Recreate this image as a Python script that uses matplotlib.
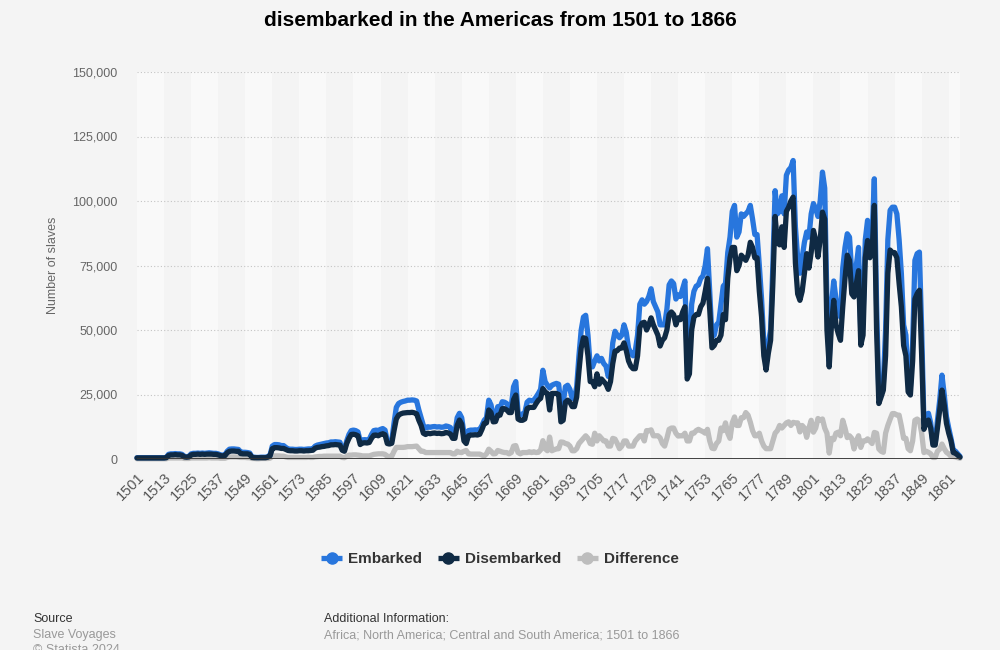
import numpy as np
import matplotlib.pyplot as plt
from matplotlib.lines import Line2D

plt.rcParams['font.family'] = ['Liberation Sans', 'DejaVu Sans']

# 数据 (单位: 千人), 每行 10 年
years = np.arange(1501, 1867)

embarked_k = [
    0.5, 0.5, 0.5, 0.5, 0.5, 0.5, 0.5, 0.5, 0.5, 0.5,          # 1501
    0.5, 0.5, 0.5, 0.6, 1.8, 2.0, 2.0, 2.1, 2.0, 2.0,          # 1511
    1.8, 1.0, 0.9, 1.0, 2.0, 2.2, 2.2, 2.3, 2.2, 2.3,          # 1521
    2.2, 2.3, 2.4, 2.3, 2.2, 2.2, 2.0, 1.6, 1.5, 1.6,          # 1531
    3.0, 3.8, 3.9, 3.9, 3.8, 3.7, 2.7, 2.6, 2.6, 2.5,          # 1541
    2.3, 0.8, 0.7, 0.6, 0.6, 0.7, 0.7, 0.7, 0.9, 1.5,          # 1551
    5.0, 5.6, 5.6, 5.5, 5.2, 5.2, 4.5, 3.9, 3.8, 3.8,          # 1561
    3.7, 3.7, 3.8, 3.8, 3.7, 3.8, 3.9, 3.9, 4.0, 5.0,          # 1571
    5.4, 5.6, 5.8, 6.0, 6.2, 6.3, 6.6, 6.6, 6.7, 6.6,          # 1581
    6.5, 4.0, 3.5, 7.0, 9.5, 11.0, 11.2, 11.0, 10.5, 7.0,      # 1591
    7.4, 7.5, 7.4, 7.6, 9.5, 11.0, 11.2, 11.0, 11.5, 11.8,     # 1601
    11.2, 7.0, 6.8, 7.2, 14.0, 20.0, 21.5, 22.0, 22.3, 22.5,   # 1611
    22.8, 22.8, 22.9, 22.8, 22.5, 19.0, 16.0, 13.0, 12.0, 12.5,  # 1621
    12.3, 12.5, 12.6, 12.4, 12.5, 12.3, 12.4, 12.8, 12.6, 12.2,  # 1631
    10.0, 10.0, 16.0, 17.7, 16.0, 10.0, 9.3, 11.0, 11.2, 11.2,   # 1641
    11.3, 11.2, 11.5, 13.0, 15.0, 16.0, 22.8, 21.0, 16.4, 16.6,  # 1651
    20.3, 20.0, 22.2, 22.0, 21.5, 20.0, 20.5, 28.0, 30.0, 18.0,  # 1661
    17.0, 17.5, 18.0, 22.0, 22.8, 22.5, 22.8, 24.0, 25.4, 27.0,  # 1671
    34.4, 30.0, 28.6, 27.5, 28.6, 29.0, 29.3, 29.0, 21.0, 21.5,  # 1681
    28.0, 28.6, 27.0, 23.5, 23.5, 28.0, 40.0, 50.0, 55.0, 55.7,  # 1691
    48.0, 36.0, 35.7, 38.0, 40.0, 38.0, 39.0, 37.0, 36.0, 32.0,  # 1701
    35.0, 45.0, 49.5, 48.0, 47.0, 48.0, 52.0, 49.0, 43.0, 41.0,  # 1711
    40.0, 42.0, 48.0, 60.0, 61.7, 60.0, 61.0, 63.0, 66.0, 61.0,  # 1721
    59.0, 57.0, 52.0, 52.0, 52.0, 58.0, 67.5, 69.0, 68.0, 62.0,  # 1731
    63.6, 63.0, 66.0, 69.0, 38.0, 40.0, 60.0, 65.0, 67.0, 67.5,  # 1741
    70.0, 71.0, 75.0, 81.5, 65.0, 47.3, 48.0, 52.0, 53.0, 60.0,  # 1751
    67.0, 68.0, 80.0, 86.0, 96.0, 98.3, 86.0, 88.0, 95.0, 94.0,  # 1761
    95.0, 96.0, 98.3, 93.0, 87.0, 87.0, 75.0, 62.0, 45.0, 38.5,  # 1771
    45.0, 50.0, 75.0, 104.0, 95.0, 96.0, 102.0, 95.0, 110.0, 112.0,   # 1781
    113.0, 115.7, 90.0, 78.0, 72.0, 78.0, 84.0, 88.0, 86.0, 95.0,     # 1791
    99.0, 97.0, 94.0, 100.0, 111.2, 105.0, 60.0, 38.0, 60.0, 69.0,    # 1801
    62.0, 59.0, 55.0, 74.0, 82.0, 87.3, 86.0, 72.0, 66.7, 75.0,       # 1811
    82.0, 48.6, 55.0, 85.0, 92.5, 85.0, 86.0, 108.6, 60.0, 25.4,      # 1821
    27.0, 29.3, 50.0, 85.0, 96.4, 97.6, 97.6, 95.0, 85.0, 71.8,       # 1831
    52.0, 48.0, 30.0, 28.0, 45.0, 77.0, 79.6, 80.2, 50.0, 14.0,       # 1841
    17.0, 17.7, 14.0, 6.0, 6.0, 15.0, 22.8, 32.5, 25.0, 16.4,         # 1851
    12.0, 8.0, 3.5, 3.0, 2.0, 1.0,                                    # 1861
]

disembarked_k = [
    0.4, 0.4, 0.4, 0.4, 0.4, 0.4, 0.4, 0.4, 0.4, 0.4,          # 1501
    0.4, 0.4, 0.4, 0.5, 1.4, 1.6, 1.6, 1.7, 1.6, 1.6,          # 1511
    1.4, 0.8, 0.7, 0.8, 1.6, 1.8, 1.8, 1.9, 1.8, 1.9,          # 1521
    1.8, 1.9, 1.9, 1.9, 1.8, 1.8, 1.6, 1.3, 1.2, 1.3,          # 1531
    2.4, 3.0, 3.1, 3.1, 3.0, 3.0, 2.1, 2.0, 2.0, 2.0,          # 1541
    1.8, 0.6, 0.5, 0.5, 0.5, 0.5, 0.5, 0.5, 0.7, 1.2,          # 1551
    4.0, 4.4, 4.4, 4.3, 4.1, 4.1, 3.7, 3.3, 3.2, 3.2,          # 1561
    3.1, 3.1, 3.2, 3.2, 3.1, 3.2, 3.2, 3.3, 3.4, 4.2,          # 1571
    4.5, 4.6, 4.8, 4.9, 5.1, 5.2, 5.5, 5.5, 5.6, 5.5,          # 1581
    5.4, 3.4, 3.0, 6.0, 8.0, 9.5, 9.6, 9.4, 9.0, 5.6,          # 1591
    6.2, 6.3, 6.2, 6.4, 8.0, 9.2, 9.3, 9.0, 9.5, 9.8,          # 1601
    9.4, 6.0, 5.8, 6.1, 11.0, 15.5, 17.0, 17.5, 17.8, 17.9,    # 1611
    18.0, 18.0, 18.1, 17.9, 17.5, 15.0, 13.0, 10.0, 9.5, 10.0,   # 1621
    9.8, 10.0, 10.1, 9.9, 10.0, 9.8, 9.9, 10.3, 10.1, 9.7,       # 1631
    8.0, 8.0, 13.0, 15.1, 13.5, 7.0, 6.0, 9.0, 9.3, 9.3,         # 1641
    9.4, 9.3, 9.6, 11.5, 13.8, 14.0, 19.0, 18.0, 14.4, 14.5,     # 1651
    17.0, 17.0, 19.5, 19.5, 19.0, 18.0, 18.0, 23.0, 24.8, 15.5,  # 1661
    15.0, 15.0, 15.5, 19.5, 20.0, 20.0, 20.0, 21.5, 22.8, 23.5,  # 1671
    27.3, 26.0, 25.4, 19.0, 25.4, 25.4, 25.4, 25.0, 14.4, 15.0,  # 1681
    22.0, 22.8, 22.0, 20.3, 20.3, 24.0, 34.0, 43.0, 47.0, 46.7,  # 1691
    40.0, 30.0, 30.0, 28.0, 33.0, 29.0, 31.0, 30.0, 29.0, 27.0,  # 1701
    30.0, 37.0, 41.8, 42.0, 43.0, 43.0, 45.0, 42.0, 38.0, 36.0,  # 1711
    35.0, 35.0, 40.0, 51.0, 52.7, 53.0, 50.0, 52.0, 54.7, 52.0,  # 1721
    50.0, 48.0, 43.8, 46.0, 47.0, 50.0, 56.0, 57.0, 56.0, 52.0,  # 1731
    54.7, 54.0, 57.0, 59.0, 31.0, 33.0, 50.0, 55.0, 56.0, 56.0,  # 1741
    59.0, 60.4, 65.0, 70.0, 58.0, 43.1, 44.0, 46.0, 46.0, 48.0,  # 1751
    56.0, 54.0, 70.0, 78.0, 82.0, 82.0, 73.0, 75.0, 79.0, 78.0,  # 1761
    77.0, 79.0, 84.0, 82.0, 78.0, 78.0, 65.0, 55.0, 40.0, 34.5,  # 1771
    41.0, 46.0, 68.0, 94.0, 84.0, 83.0, 90.0, 82.0, 96.0, 97.6,  # 1781
    100.0, 101.5, 76.0, 64.0, 61.5, 65.0, 72.0, 79.6, 74.0, 80.0,  # 1791
    88.6, 85.0, 78.3, 85.0, 95.7, 93.0, 50.0, 35.7, 52.0, 61.5,    # 1801
    52.0, 48.6, 46.0, 59.0, 70.0, 79.0, 77.0, 64.0, 62.8, 68.0,    # 1811
    73.0, 44.1, 48.0, 78.0, 84.7, 78.0, 80.0, 98.3, 50.0, 21.5,    # 1821
    24.0, 26.7, 40.0, 72.0, 81.0, 80.0, 80.0, 78.0, 68.0, 59.0,    # 1831
    44.0, 40.0, 26.0, 24.8, 38.0, 62.0, 64.1, 65.4, 40.0, 11.5,    # 1841
    14.0, 15.1, 12.0, 5.4, 5.4, 12.0, 19.0, 26.7, 21.0, 13.8,      # 1851
    10.0, 7.0, 2.5, 2.2, 1.5, 0.7,                                 # 1861
]

assert len(embarked_k) == len(years) and len(disembarked_k) == len(years)

embarked = np.array(embarked_k) * 1000
disembarked = np.array(disembarked_k) * 1000
difference = embarked - disembarked   # 差值 = 登船 - 下船

series_names = ['Embarked', 'Disembarked', 'Difference']
series_colors = ['#2876dd', '#0f2a44', '#bdbdbd']
y_ticks = [0, 25000, 50000, 75000, 100000, 125000, 150000]
x_tick_years = list(range(1501, 1867, 12))

bg = '#f4f4f4'
fig = plt.figure(figsize=(10, 6.5), dpi=100, facecolor=bg)
ax = fig.add_axes([0.137, 1 - 459 / 650, 0.823, 387 / 650])
ax.set_facecolor(bg)

# 交替背景条
for i, start in enumerate(x_tick_years):
    if i % 2 == 0:
        ax.axvspan(start, min(start + 12, 1866), color='#f9f9f9', lw=0, zorder=0)

lw = 3.8
ax.plot(years, difference, color=series_colors[2], lw=lw, solid_joinstyle='round',
        solid_capstyle='round', zorder=3, clip_on=False)
ax.plot(years, embarked, color=series_colors[0], lw=lw, solid_joinstyle='round',
        solid_capstyle='round', zorder=4, clip_on=False)
ax.plot(years, disembarked, color=series_colors[1], lw=lw, solid_joinstyle='round',
        solid_capstyle='round', zorder=5, clip_on=False)

ax.set_xlim(1501, 1866)
ax.set_ylim(0, 150000)
for s in ax.spines.values():
    s.set_visible(False)
ax.axhline(0, color='#333333', lw=1.3, zorder=6)

ax.set_yticks(y_ticks)
ax.set_yticklabels([f'{v:,}' for v in y_ticks])
ax.yaxis.grid(True, linestyle=(0, (1, 2)), color='#c4c4c4', lw=0.8, zorder=1)
ax.set_axisbelow(True)
ax.tick_params(axis='y', length=0, pad=14, labelsize=9, labelcolor='#666666')

ax.set_xticks(x_tick_years)
ax.set_xticklabels([str(y) for y in x_tick_years], rotation=45, ha='right',
                   va='top', rotation_mode='anchor')
ax.tick_params(axis='x', length=0, pad=8, labelsize=10.5, labelcolor='#555555')

fig.text(0.053, 1 - 265.5 / 650, 'Number of slaves', rotation=90, ha='center',
         va='center', fontsize=9, color='#666666')

fig.text(0.5, 1 - 20 / 650, 'disembarked in the Americas from 1501 to 1866',
         ha='center', va='center', fontsize=15, fontweight='bold', color='#000000')

handles = [Line2D([0], [0], color=c, lw=lw, marker='o', markersize=8,
                  solid_capstyle='butt') for c in series_colors]
leg = fig.legend(handles, series_names, loc='center', bbox_to_anchor=(0.5, 1 - 559 / 650),
                 ncol=3, frameon=False, handlelength=1.4, handletextpad=0.4,
                 columnspacing=1.0, prop={'size': 11, 'weight': 'bold'})
for t in leg.get_texts():
    t.set_color('#333333')

fig.text(0.033, 1 - 619 / 650, 'Source', fontsize=9, color='#333333', va='center')
fig.text(0.033, 1 - 635 / 650, 'Slave Voyages', fontsize=9, color='#999999', va='center')
fig.text(0.033, 1 - 650 / 650, '\u00a9 Statista 2024', fontsize=9, color='#999999', va='center')
fig.text(0.324, 1 - 619 / 650, 'Additional Information:', fontsize=9, color='#333333', va='center')
fig.text(0.324, 1 - 635 / 650, 'Africa; North America; Central and South America; 1501 to 1866',
         fontsize=9, color='#999999', va='center')

fig.savefig('out.png', dpi=100, facecolor=fig.get_facecolor())
